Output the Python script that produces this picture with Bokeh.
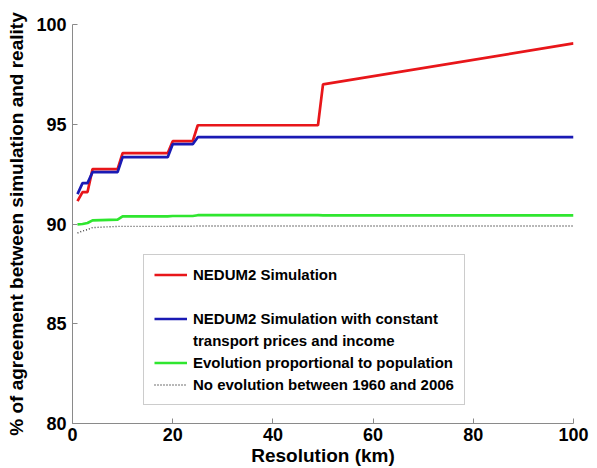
from bokeh.plotting import figure
from bokeh.models import Range1d, FixedTicker, Legend, LegendItem
from bokeh.embed import file_html
from bokeh.resources import INLINE

# ---- data ----
resolution_km = [1, 2, 3, 4, 9, 10, 19, 20, 24, 25, 49, 50, 100]
nedum2 = [91.15, 91.6, 91.6, 92.75, 92.75, 93.55, 93.55, 94.15, 94.15, 94.95, 94.95, 97.0, 99.05]
nedum2_const = [91.5, 92.05, 92.05, 92.6, 92.6, 93.35, 93.35, 94.0, 94.0, 94.35, 94.35, 94.35, 94.35]
prop_population = [89.98, 90.0, 90.05, 90.18, 90.22, 90.38, 90.38, 90.4, 90.4, 90.44, 90.44, 90.43, 90.43]
no_evolution = [89.55, 89.65, 89.72, 89.82, 89.88, 89.88, 89.88, 89.89, 89.89, 89.9, 89.9, 89.9, 89.9]

x_ticks = [0, 20, 40, 60, 80, 100]
y_ticks = [80, 85, 90, 95, 100]

labels = ["NEDUM2 Simulation",
          "NEDUM2 Simulation with constant",
          "transport prices and income",
          "Evolution proportional to population",
          "No evolution between 1960 and 2006"]
x_title = "Resolution (km)"
y_title = "% of agreement between simulation and reality"

FONT = "Liberation Sans"

p = figure(width=597, height=468, output_backend="svg", toolbar_location=None,
           x_range=Range1d(0, 100), y_range=Range1d(80, 100),
           min_border_left=72, min_border_right=24, min_border_top=24, min_border_bottom=43)
p.outline_line_color = None
p.xgrid.visible = False
p.ygrid.visible = False
p.background_fill_color = "white"

r_red = p.line(resolution_km, nedum2, line_color="#e8161a", line_width=2.7)
r_blue = p.line(resolution_km, nedum2_const, line_color="#1a1ab4", line_width=2.7)
r_green = p.line(resolution_km, prop_population, line_color="#2fe62f", line_width=2.7)
r_black = p.line(resolution_km, no_evolution, line_color="#444444", line_width=1.4, line_dash="1 2")
r_blank = p.line(resolution_km, no_evolution, line_alpha=0)

for ax, ticks in ((p.xaxis, x_ticks), (p.yaxis, y_ticks)):
    ax.ticker = FixedTicker(ticks=ticks)
    ax.axis_line_color = "#8a8a8a"
    ax.major_tick_line_color = "#8a8a8a"
    ax.minor_tick_line_color = None
    ax.major_tick_in = 5
    ax.major_tick_out = 0
    ax.major_label_text_font = FONT
    ax.major_label_text_font_style = "bold"
    ax.major_label_text_font_size = "18px"
    ax.major_label_text_color = "black"
    ax.axis_label_text_font = FONT
    ax.axis_label_text_font_style = "bold"
    ax.axis_label_text_font_size = "19px"
    ax.axis_label_text_color = "black"

p.xaxis.axis_label = x_title
p.yaxis.axis_label = y_title
p.xaxis.major_label_standoff = 4
p.xaxis.axis_label_standoff = 1
p.yaxis.major_label_standoff = 6
p.yaxis.axis_label_standoff = 6

legend = Legend(items=[
    LegendItem(label=labels[0], renderers=[r_red]),
    LegendItem(label=" ", renderers=[r_blank]),
    LegendItem(label=labels[1], renderers=[r_blue]),
    LegendItem(label=labels[2], renderers=[r_blank]),
    LegendItem(label=labels[3], renderers=[r_green]),
    LegendItem(label=labels[4], renderers=[r_black]),
], location=(71, 18))
legend.padding = 10
legend.spacing = 3
legend.label_height = 19
legend.glyph_height = 19
legend.glyph_width = 33
legend.label_standoff = 6
legend.label_text_font = FONT
legend.label_text_font_style = "bold"
legend.label_text_font_size = "15px"
legend.label_text_color = "black"
legend.border_line_color = "#999999"
legend.border_line_width = 1
legend.background_fill_color = "white"
legend.background_fill_alpha = 1
legend.click_policy = "none"
p.add_layout(legend, "center")

open("out.html", "w").write(file_html(p, INLINE))
